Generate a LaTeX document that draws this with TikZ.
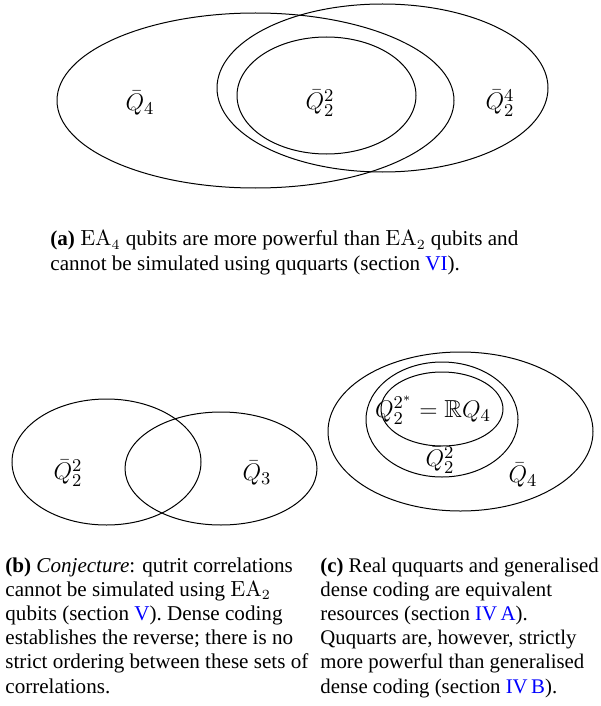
\documentclass[tikz,border=0pt]{standalone}
\usepackage{amssymb}
\usepackage[no-math]{fontspec}
\setmainfont{Liberation Serif}
\begin{document}
\begin{tikzpicture}[x=0.5pt,y=-0.5pt,
  setline/.style={line width=0.5pt},
  lbl/.style={inner sep=0pt, font=\fontsize{12.3}{14}\selectfont},
  captxt/.style={anchor=base west, align=left, inner sep=0pt, font=\fontsize{10.55}{12.1}\selectfont}]
\useasboundingbox (0,0) rectangle (600,706);
% (a)
\draw[setline] (255.5,100.5) ellipse [x radius=198.5, y radius=87.5];
\draw[setline] (382.5,88) ellipse [x radius=165.5, y radius=84];
\draw[setline] (326.5,95.5) ellipse [x radius=89.5, y radius=58.5];
\node[lbl] (qa4) at (140,103) {$\bar Q_4$};
\node[lbl] (qa22) at (320,103) {$\bar Q_2^2$};
\node[lbl] (qa24) at (500,103) {$\bar Q_2^4$};
\node[captxt] (capa) at (50,270) {\textbf{(a)} $\mathrm{EA}_4$ qubits are more powerful than $\mathrm{EA}_2$ qubits and\\
cannot be simulated using ququarts (section \textcolor{blue}{VI}).};
% (b)
\draw[setline] (106.5,462) ellipse [x radius=94.5, y radius=63];
\draw[setline] (221,468.5) ellipse [x radius=96, y radius=56.5];
\node[lbl] (qb22) at (68,473) {$\bar Q_2^2$};
\node[lbl] (qb3) at (257,473) {$\bar Q_3$};
% (c)
\draw[setline] (460.5,431.5) ellipse [x radius=132.5, y radius=79.5];
\draw[setline] (442,419.5) ellipse [x radius=76, y radius=57.5];
\draw[setline] (442,409) ellipse [x radius=61, y radius=37];
\node[lbl] (qcr) at (433,410) {$Q_2^{2^*}=\mathbb{R}Q_4$};
\node[lbl] (qc22) at (440,460) {$\bar Q_2^2$};
\node[lbl] (qc4) at (523,475) {$\bar Q_4$};
\node[captxt] (capb) at (5,693) {\textbf{(b)} \textit{Conjecture}: qutrit correlations\\
cannot be simulated using $\mathrm{EA}_2$\\
qubits (section \textcolor{blue}{V}). Dense coding\\
establishes the reverse; there is no\\
strict ordering between these sets of\\
correlations.};
\node[captxt, font=\fontsize{10.4}{12.1}\selectfont] (capc) at (320,693) {\textbf{(c)} Real ququarts and generalised\\
dense coding are equivalent\\
resources (section \textcolor{blue}{IV\,A}).\\
Ququarts are, however, strictly\\
more powerful than generalised\\
dense coding (section \textcolor{blue}{IV\,B}).};
\end{tikzpicture}
\end{document}
